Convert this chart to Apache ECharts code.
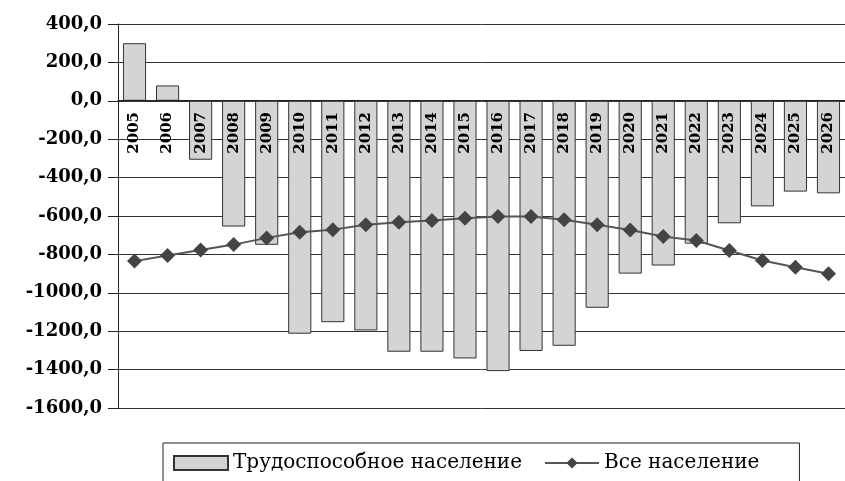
<!DOCTYPE html>
<html>
<head>
<meta charset="utf-8">
<script src="https://cdn.jsdelivr.net/npm/echarts@6/dist/echarts.min.js"></script>
<style>
  html, body { margin: 0; padding: 0; background: #fff; }
  #main { width: 845px; height: 481px; }
</style>
</head>
<body>
<div id="main"></div>
<script>
var years = ['2005', '2006', '2007', '2008', '2009', '2010', '2011', '2012', '2013', '2014', '2015',
    '2016', '2017', '2018', '2019', '2020', '2021', '2022', '2023', '2024', '2025', '2026'];

// Трудоспособное население
var working = [300, 80, -307, -655, -750, -1213, -1153, -1196, -1307, -1307, -1342,
    -1408, -1303, -1276, -1078, -900, -858, -744, -638, -550, -473, -482];

// Все население
var total = [-835, -806, -777, -749, -714, -685, -671, -645, -633, -624, -612,
    -603, -602, -620, -645, -673, -707, -728, -780, -832, -867, -901];

var chartDom = document.getElementById('main');
var myChart = echarts.init(chartDom);
var option;

var serif = '"DejaVu Serif", "Liberation Serif", serif';

// the category axis sits on the zero line: plot spans 24..408 px for 400..-1600
var zeroOffset = -(408 - 100);

option = {
    animation: false,
    backgroundColor: '#fff',
    grid: {
        left: 118,
        right: 0,
        top: 24,
        bottom: 73
    },
    xAxis: {
        type: 'category',
        data: years,
        z: 10,
        position: 'bottom',
        offset: zeroOffset,
        axisLine: {
            onZero: false,
            lineStyle: { color: '#222', width: 1 }
        },
        axisTick: {
            inside: true,
            length: 4,
            lineStyle: { color: '#222' }
        },
        axisLabel: {
            rotate: 90,
            margin: 12,
            color: '#000',
            fontFamily: serif,
            fontWeight: 'bold',
            fontSize: 15
        },
        splitLine: { show: false }
    },
    yAxis: {
        type: 'value',
        min: -1600,
        max: 400,
        interval: 200,
        axisLine: {
            show: true,
            lineStyle: { color: '#222', width: 1 }
        },
        axisTick: {
            show: true,
            length: 10,
            lineStyle: { color: '#222' }
        },
        axisLabel: {
            margin: 16,
            color: '#000',
            fontFamily: serif,
            fontWeight: 'bold',
            fontSize: 18,
            formatter: function (v) {
                return v.toFixed(1).replace('.', ',');
            }
        },
        splitLine: {
            show: true,
            lineStyle: { color: '#333', width: 1 }
        }
    },
    legend: {
        left: 163,
        top: 443,
        padding: [10, 40, 20, 10],
        itemGap: 22,
        itemWidth: 54,
        itemHeight: 14,
        borderColor: '#222',
        borderWidth: 1,
        textStyle: {
            color: '#000',
            fontFamily: serif,
            fontSize: 20
        },
        data: [
            { name: 'Трудоспособное население', icon: 'rect' },
            { name: 'Все население' }
        ]
    },
    series: [
        {
            name: 'Трудоспособное население',
            type: 'bar',
            data: working,
            barWidth: '70%',
            itemStyle: {
                color: '#d4d4d4',
                borderColor: '#333',
                borderWidth: 1
            }
        },
        {
            name: 'Все население',
            type: 'line',
            data: total,
            z: 5,
            symbol: 'diamond',
            symbolSize: 15,
            lineStyle: { color: '#555', width: 2 },
            itemStyle: { color: '#444' }
        }
    ]
};

option && myChart.setOption(option);
</script>
</body>
</html>
